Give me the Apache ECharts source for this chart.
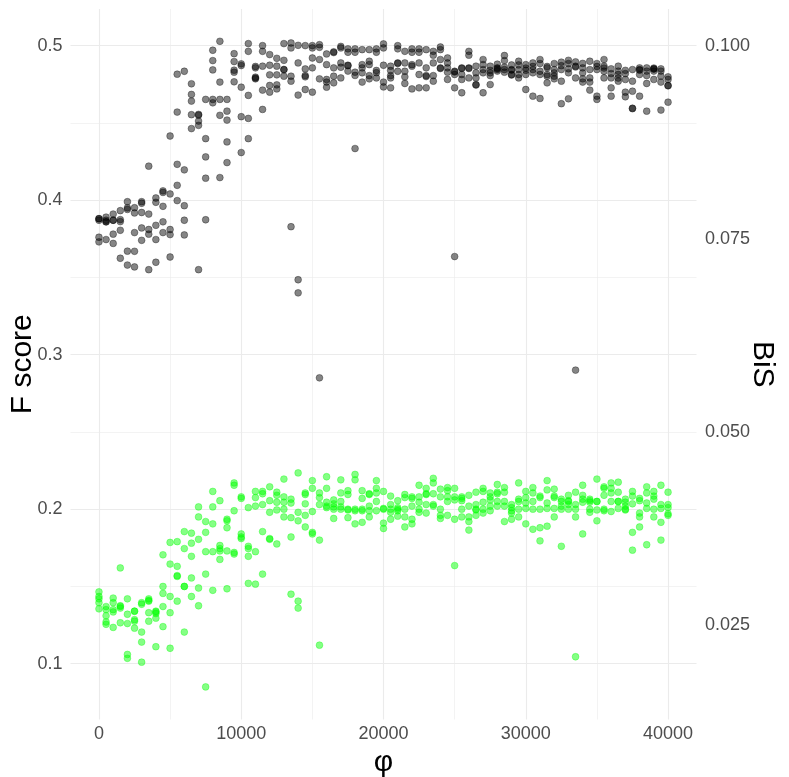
<!DOCTYPE html>
<html>
<head>
<meta charset="utf-8">
<script src="https://cdn.jsdelivr.net/npm/echarts@6/dist/echarts.min.js"></script>
<style>html,body{margin:0;padding:0;background:#fff}#chart{width:789px;height:777px}</style>
</head>
<body>
<div id="chart"></div>
<script>
// x positions (phi)
const phi = [0,500,1000,1500,2000,2500,3000,3500,4000,4500,5000,5500,6000,6500,7000,7500,8000,8500,9000,9500,
  10000,10500,11000,11500,12000,12500,13000,13500,14000,14500,15000,15500,16000,16500,17000,17500,18000,18500,19000,19500,
  20000,20500,21000,21500,22000,22500,23000,23500,24000,24500,25000,25500,26000,26500,27000,27500,28000,28500,29000,29500,
  30000,30500,31000,31500,32000,32500,33000,33500,34000,34500,35000,35500,36000,36500,37000,37500,38000,38500,39000,39500,40000];

// F score (left axis), 5 replicates per phi
const fScore = [
[0.388,0.387,0.388,0.376,0.373],[0.389,0.386,0.386,0.3745,0.387],[0.391,0.387,0.387,0.378,0.372],[0.3932,0.3874,0.3861,0.3805,0.3624],
[0.399,0.394,0.395,0.367,0.358],[0.3951,0.3917,0.379,0.3669,0.3568],[0.399,0.398,0.392,0.382,0.374],[0.422,0.391,0.381,0.378,0.355],
[0.4014,0.3986,0.3837,0.3745,0.3598],[0.406,0.405,0.396,0.386,0.379],[0.4415,0.404,0.381,0.3777,0.3632],[0.4815,0.457,0.4232,0.4096,0.3997],
[0.4834,0.4196,0.3964,0.387,0.3775],[0.4753,0.4684,0.4641,0.4553,0.4463],[0.4555,0.455,0.4512,0.4484,0.355],[0.4652,0.4398,0.428,0.4142,0.3873],
[0.497,0.4903,0.4843,0.4652,0.463],[0.5028,0.4764,0.4652,0.4549,0.4146],[0.4652,0.4576,0.4518,0.4377,0.4243],[0.4948,0.4897,0.4841,0.4828,0.4766],
[0.4882,0.4871,0.4731,0.454,0.4308],[0.5013,0.4963,0.4678,0.4529,0.4398],[0.4865,0.4856,0.4796,0.479,0.4785],[0.5,0.4963,0.4867,0.4712,0.4587],
[0.4942,0.4873,0.4811,0.4742,0.4699],[0.4918,0.4867,0.4811,0.4746,0.472],[0.5013,0.4905,0.4845,0.4845,0.4802],[0.5017,0.4985,0.4802,0.477,0.3828],
[0.5002,0.4888,0.468,0.3485,0.340],[0.5,0.4849,0.4806,0.4798,0.4716],[0.5,0.4985,0.492,0.4856,0.4699],[0.5006,0.4989,0.491,0.4785,0.285],
[0.4946,0.4877,0.4781,0.4764,0.4731],[0.496,0.4955,0.4856,0.4802,0.4759],[0.4995,0.4985,0.4888,0.486,0.4791],[0.4979,0.4957,0.4873,0.487,0.4835],
[0.4979,0.4957,0.4828,0.4807,0.4334],[0.4974,0.4877,0.4856,0.4824,0.4764],[0.4974,0.4899,0.4877,0.4806,0.4785],[0.4979,0.4957,0.4839,0.4825,0.4791],
[0.5011,0.4985,0.4873,0.4764,0.4733],[0.4867,0.4839,0.4806,0.4791,0.4727],[0.5,0.4979,0.4888,0.4885,0.4834],[0.4963,0.4888,0.4834,0.4798,0.4755],
[0.4979,0.4957,0.4877,0.4867,0.472],[0.4979,0.4957,0.4888,0.4813,0.4727],[0.4974,0.4856,0.4806,0.48,0.4727],[0.4963,0.4938,0.4888,0.4806,0.477],
[0.4991,0.4974,0.491,0.4856,0.4852],[0.492,0.4888,0.4856,0.4828,0.4781],[0.4834,0.483,0.4813,0.4727,0.3635],[0.4856,0.4852,0.4813,0.4781,0.4695],
[0.4963,0.4938,0.4856,0.4852,0.4791],[0.4867,0.4824,0.4791,0.4748,0.4745],[0.491,0.4877,0.4845,0.4824,0.4695],[0.4867,0.484,0.4824,0.4806,0.4748],
[0.488,0.4856,0.4852,0.4845,0.4835],[0.4936,0.4903,0.486,0.4845,0.4828],[0.4875,0.4845,0.4842,0.4813,0.481],[0.4899,0.4875,0.4845,0.4813,0.4791],
[0.4877,0.4855,0.484,0.4813,0.4716],[0.4888,0.4865,0.4845,0.4824,0.4673],[0.491,0.4884,0.4834,0.4813,0.4658],[0.4865,0.4856,0.4813,0.4802,0.4759],
[0.4884,0.4845,0.4824,0.4802,0.4785],[0.4893,0.487,0.4845,0.477,0.4624],[0.4905,0.4884,0.485,0.4824,0.4656],[0.4895,0.4867,0.4862,0.4791,0.290],
[0.4885,0.4856,0.4824,0.4785,0.4764],[0.4899,0.4845,0.4791,0.4764,0.4712],[0.4884,0.4865,0.4845,0.4673,0.4652],[0.491,0.4867,0.4855,0.4834,0.4791],
[0.485,0.4819,0.4791,0.4727,0.4673],[0.4867,0.4835,0.4813,0.479,0.477],[0.484,0.4819,0.4781,0.4699,0.4669],[0.4845,0.477,0.4705,0.4595,0.4592],
[0.4856,0.4845,0.4841,0.4813,0.4673],[0.4856,0.4835,0.4806,0.4755,0.4576],[0.4855,0.485,0.4848,0.4835,0.4781],[0.485,0.4835,0.4802,0.4764,0.4583],
[0.4798,0.4781,0.4742,0.474,0.4634]
];

// BiS (right axis), 5 replicates per phi
const bis = [
[0.0293,0.0287,0.0284,0.0279,0.0271],[0.0274,0.0270,0.0262,0.0254,0.0251],[0.0285,0.0279,0.0270,0.0267,0.0247],[0.0324,0.0275,0.0274,0.0272,0.0253],
[0.0284,0.0264,0.0252,0.0212,0.0207],[0.0268,0.0268,0.0257,0.0255,0.0246],[0.0279,0.0277,0.0241,0.0228,0.0202],[0.0284,0.0282,0.0281,0.0266,0.0255],
[0.0268,0.0267,0.0265,0.0259,0.0222],[0.0341,0.0300,0.0291,0.0274,0.0248],[0.0357,0.0329,0.0287,0.0266,0.0220],[0.0358,0.0326,0.0314,0.0313,0.0281],
[0.0371,0.0349,0.0300,0.0300,0.0241],[0.0369,0.0356,0.0339,0.0311,0.0287],[0.0403,0.0390,0.0361,0.0298,0.0275],[0.0384,0.0370,0.0345,0.0316,0.0170],
[0.0423,0.0403,0.0381,0.0345,0.0295],[0.0411,0.0353,0.0349,0.0346,0.0335],[0.0387,0.0385,0.0376,0.0346,0.0297],[0.0434,0.0431,0.0398,0.0344,0.0342],
[0.0416,0.0414,0.0368,0.0364,0.0362],[0.0402,0.0352,0.0349,0.0339,0.0304],[0.0423,0.0415,0.0404,0.0345,0.0303],[0.0423,0.0420,0.0406,0.0371,0.0316],
[0.0429,0.0411,0.0396,0.0362,0.0361],[0.0422,0.0418,0.0409,0.0399,0.0355],[0.0439,0.0416,0.0409,0.0400,0.0390],[0.0413,0.0408,0.0389,0.0364,0.0290],
[0.0447,0.0396,0.0385,0.0281,0.0272],[0.0421,0.0419,0.0407,0.0392,0.0377],[0.0437,0.0427,0.0397,0.0370,0.0368],[0.0421,0.0415,0.0406,0.0360,0.0224],
[0.0442,0.0427,0.0409,0.0404,0.0402],[0.0412,0.0407,0.0403,0.0400,0.0388],[0.0438,0.0421,0.0410,0.0403,0.0400],[0.0424,0.0419,0.0400,0.0399,0.0389],
[0.0445,0.0438,0.0400,0.0398,0.0381],[0.0424,0.0414,0.0400,0.0398,0.0383],[0.0420,0.0419,0.0404,0.0398,0.0390],[0.0437,0.0427,0.0421,0.0410,0.0398],
[0.0423,0.0401,0.0400,0.0382,0.0375],[0.0417,0.0406,0.0400,0.0396,0.0387],[0.0411,0.0402,0.0400,0.0398,0.0391],[0.0419,0.0415,0.0400,0.0390,0.0377],
[0.0416,0.0414,0.0404,0.0387,0.0381],[0.0431,0.0416,0.0409,0.0400,0.0396],[0.0427,0.0420,0.0419,0.0406,0.0395],[0.0440,0.0434,0.0420,0.0406,0.0404],
[0.0426,0.0416,0.0400,0.0392,0.0388],[0.0428,0.0424,0.0416,0.0410,0.0392],[0.0427,0.0416,0.0412,0.0387,0.0327],[0.0416,0.0414,0.0411,0.0400,0.0390],
[0.0418,0.0404,0.0390,0.0384,0.0373],[0.0422,0.0406,0.0400,0.0399,0.0392],[0.0427,0.0423,0.0409,0.0400,0.0395],[0.0421,0.0416,0.0412,0.0404,0.0398],
[0.0432,0.0422,0.0420,0.0410,0.0404],[0.0428,0.0422,0.0410,0.0404,0.0384],[0.0406,0.0402,0.0398,0.0395,0.0387],[0.0434,0.0413,0.0410,0.0400,0.0390],
[0.0423,0.0415,0.0408,0.0401,0.0381],[0.0428,0.0421,0.0410,0.0400,0.0374],[0.0417,0.0415,0.0400,0.0376,0.0359],[0.0437,0.0425,0.0408,0.0401,0.0378],
[0.0426,0.0417,0.0415,0.0401,0.0390],[0.0413,0.0410,0.0404,0.0400,0.0352],[0.0418,0.0411,0.0410,0.0406,0.0400],[0.0422,0.0406,0.0400,0.0390,0.0209],
[0.0431,0.0418,0.0413,0.0409,0.0368],[0.0413,0.0411,0.0409,0.0400,0.0396],[0.0439,0.0410,0.0410,0.0399,0.0385],[0.0429,0.0427,0.0418,0.0400,0.0398],
[0.0434,0.0427,0.0421,0.0410,0.0397],[0.0435,0.0422,0.0410,0.0410,0.0401],[0.0413,0.0409,0.0404,0.0400,0.0399],[0.0423,0.0417,0.0407,0.0370,0.0347],
[0.0414,0.0411,0.0395,0.0390,0.0377],[0.0429,0.0421,0.0408,0.0401,0.0354],[0.0423,0.0417,0.0413,0.0400,0.0390],[0.0431,0.0406,0.0401,0.0383,0.0360],
[0.0422,0.0406,0.0402,0.0394,0.0392]
];

// tick labels
const xTicks = [0, 10000, 20000, 30000, 40000];
const fTicks = [0.1, 0.2, 0.3, 0.4, 0.5];
const bisTicks = [0.025, 0.05, 0.075, 0.1];

// axis ranges
const xRange = [-2000, 42000];
const fRange = [0.0639, 0.5237];
const bisRange = [fRange[0] / 5, fRange[1] / 5];

function pairs(xs, groups) {
  const out = [];
  groups.forEach((g, i) => g.forEach(v => out.push([xs[i], v])));
  return out;
}

const FONT = 'Liberation Sans, Arial, sans-serif';
const tickLabel = { color: '#4d4d4d', fontSize: 18, fontFamily: FONT };
const titleStyle = { color: '#000', fontSize: 30, fontFamily: FONT };
const gridCol = '#ebebeb';

const chart = echarts.init(document.getElementById('chart'), null, { renderer: 'canvas' });
chart.setOption({
  animation: false,
  backgroundColor: '#ffffff',
  grid: { left: 70.5, right: 92.5, top: 9, bottom: 57.5, containLabel: false, outerBoundsMode: 'none' },
  xAxis: {
    type: 'value', min: xRange[0], max: xRange[1],
    name: 'φ', nameLocation: 'middle', nameGap: 28, nameMoveOverlap: false,
    nameTextStyle: titleStyle,
    axisLine: { show: false },
    axisTick: { show: false, customValues: xTicks },
    axisLabel: Object.assign({ customValues: xTicks, margin: 6, formatter: v => String(v) }, tickLabel),
    splitLine: { show: true, lineStyle: { color: gridCol, width: 1.1 } },
    minorTick: { show: false, splitNumber: 2 },
    minorSplitLine: { show: true, lineStyle: { color: gridCol, width: 0.6 } }
  },
  yAxis: [
    {
      type: 'value', min: fRange[0], max: fRange[1], position: 'left',
      name: 'F score', nameLocation: 'middle', nameGap: 33, nameMoveOverlap: false,
      nameTextStyle: titleStyle,
      axisLine: { show: false },
      axisTick: { show: false, customValues: fTicks },
      axisLabel: Object.assign({ customValues: fTicks, margin: 8, formatter: v => String(v) }, tickLabel),
      splitLine: { show: true, lineStyle: { color: gridCol, width: 1.1 } },
      minorTick: { show: false, splitNumber: 2 },
      minorSplitLine: { show: true, lineStyle: { color: gridCol, width: 0.6 } }
    },
    {
      type: 'value', min: bisRange[0], max: bisRange[1], position: 'right',
      name: 'BiS', nameLocation: 'middle', nameGap: 51, nameRotate: -90, nameMoveOverlap: false,
      nameTextStyle: titleStyle,
      axisLine: { show: false },
      axisTick: { show: false, customValues: bisTicks },
      axisLabel: Object.assign({ customValues: bisTicks, margin: 8.5, formatter: v => v.toFixed(3) }, tickLabel),
      splitLine: { show: false }
    }
  ],
  series: [
    {
      name: 'F score', type: 'scatter', yAxisIndex: 0, symbol: 'circle', symbolSize: 6.8,
      itemStyle: { color: 'rgba(0,0,0,0.6)', borderColor: 'rgba(0,0,0,0.6)', borderWidth: 0.7 },
      data: pairs(phi, fScore), z: 3
    },
    {
      name: 'BiS', type: 'scatter', yAxisIndex: 1, symbol: 'circle', symbolSize: 6.8,
      itemStyle: { color: 'rgba(0,255,0,0.6)', borderColor: 'rgba(0,255,0,0.6)', borderWidth: 0.7 },
      data: pairs(phi, bis), z: 3
    }
  ]
});
</script>
</body>
</html>
